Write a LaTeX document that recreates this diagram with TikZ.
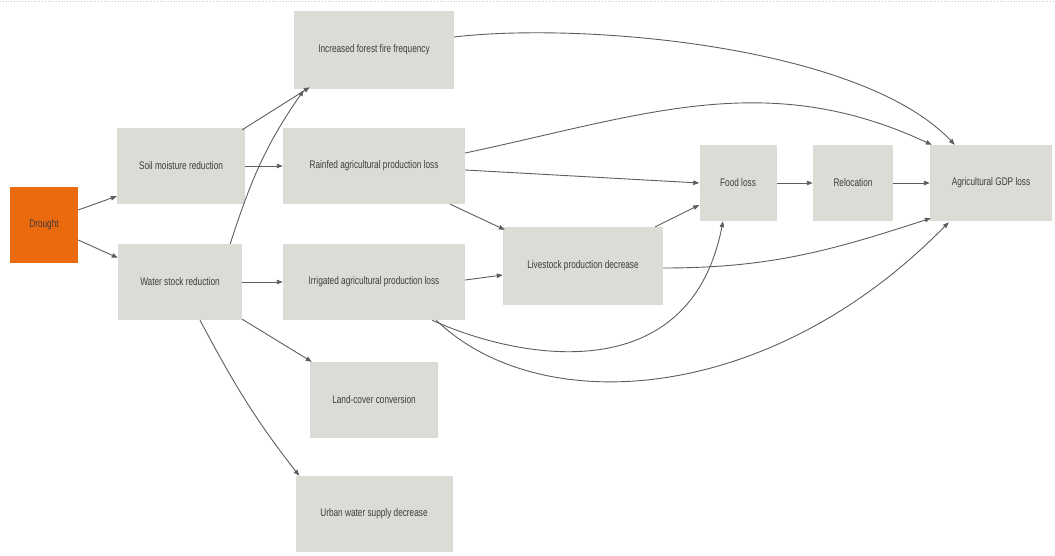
\documentclass[tikz,border=0pt]{standalone}
\usepackage{fontspec}
\newfontfamily\nar[FakeStretch=0.75]{Liberation Sans}
\usetikzlibrary{calc,arrows.meta}
\definecolor{boxgray}{HTML}{DCDCD6}
\definecolor{droughtor}{HTML}{EC6A0E}
\definecolor{txtgray}{HTML}{3C3C3C}
\definecolor{linegray}{HTML}{5E5E5E}
\tikzset{
  box/.style={fill=boxgray, draw=none, inner sep=0pt, text=txtgray, font=\nar\fontsize{11}{13}\selectfont, align=center},
  hazard/.style={box, fill=droughtor},
  link/.style={draw=linegray, line width=0.9pt, -{Triangle[length=6pt,width=4.5pt]}},
}
\begin{document}
\begin{tikzpicture}[x=1pt,y=1pt]
\useasboundingbox (0,0) rectangle (1055,-556);
\draw[gray!40, dotted, line width=0.8pt] (0,-1) -- (1055,-1);
% nodes
\node[hazard, minimum width=68, minimum height=76] (dr) at (44,-225) {Drought};
\node[box, minimum width=128, minimum height=76] (soil) at (181,-166) {Soil moisture reduction};
\node[box, minimum width=124, minimum height=76] (ws) at (180,-282) {Water stock reduction};
\node[box, minimum width=160, minimum height=78] (fire) at (374,-50) {Increased forest fire frequency};
\node[box, minimum width=182, minimum height=76] (rain) at (374,-166) {Rainfed agricultural production loss};
\node[box, minimum width=182, minimum height=76] (irr) at (374,-282) {Irrigated agricultural production loss};
\node[box, minimum width=128, minimum height=76] (land) at (374,-400) {Land-cover conversion};
\node[box, minimum width=157, minimum height=76] (urban) at (374,-514) {Urban water supply decrease};
\node[box, minimum width=160, minimum height=78] (live) at (583,-266) {Livestock production decrease};
\node[box, minimum width=77, minimum height=76] (food) at (738,-183) {Food loss};
\node[box, minimum width=80, minimum height=76] (relo) at (853,-183) {Relocation};
\node[box, minimum width=122, minimum height=76] (gdp) at (991,-183) {Agricultural GDP loss};
% connectors
\draw[link] ($(dr.east)+(0,15)$) -- ($(soil.south west)+(0,8)$);
\draw[link] ($(dr.east)+(0,-15)$) -- ($(ws.north west)+(0,-14)$);
\draw[link] ($(soil.north east)+(-3,-2)$) -- ($(fire.south west)+(16,2)$);
\draw[link] ($(ws.north east)+(-12,0)$) to[out=72,in=235] ($(fire.south west)+(10,-1)$);
\draw[link] (soil.east) -- (rain.west);
\draw[link] (ws.east) -- (irr.west);
\draw[link] ($(ws.south east)+(0,1)$) -- ($(land.north west)+(2,0)$);
\draw[link] ($(ws.south)+(20,0)$) to[out=-62,in=128] ($(urban.north west)+(4,0)$);
\draw[link] ($(fire.east)+(0,13)$) .. controls ($(fire.east)+(126,28)$) and ($(gdp.north west)+(-70,100)$) .. ($(gdp.north west)+(25,0)$);
\draw[link] ($(rain.east)+(0,13)$) to[out=12,in=155] ($(gdp.north west)+(2,0)$);
\draw[link] ($(rain.east)+(0,-4)$) -- (food.west);
\draw[link] ($(rain.south east)+(-15,0)$) -- ($(live.north west)+(2,-3)$);
\draw[link] ($(irr.east)+(0,2)$) -- ($(live.west)+(0,-9)$);
\draw[link] ($(live.north east)+(-8,0)$) -- ($(food.west)+(0,-22)$);
\draw[link] ($(live.east)+(0,-2)$) to[out=0,in=198] ($(gdp.south west)+(1,3)$);
\draw[link] ($(irr.south east)+(-33,0)$) .. controls ($(irr.south east)+(55,-40)$) and ($(food.south)+(-48,-169)$) .. ($(food.south)+(-15,0)$);
\draw[link] ($(irr.south east)+(-29,0)$) .. controls ($(irr.south east)+(75,-100)$) and ($(gdp.south west)+(-160,-184)$) .. ($(gdp.south west)+(19,-1)$);
\draw[link] (food.east) -- (relo.west);
\draw[link] (relo.east) -- (gdp.west);
\end{tikzpicture}
\end{document}
